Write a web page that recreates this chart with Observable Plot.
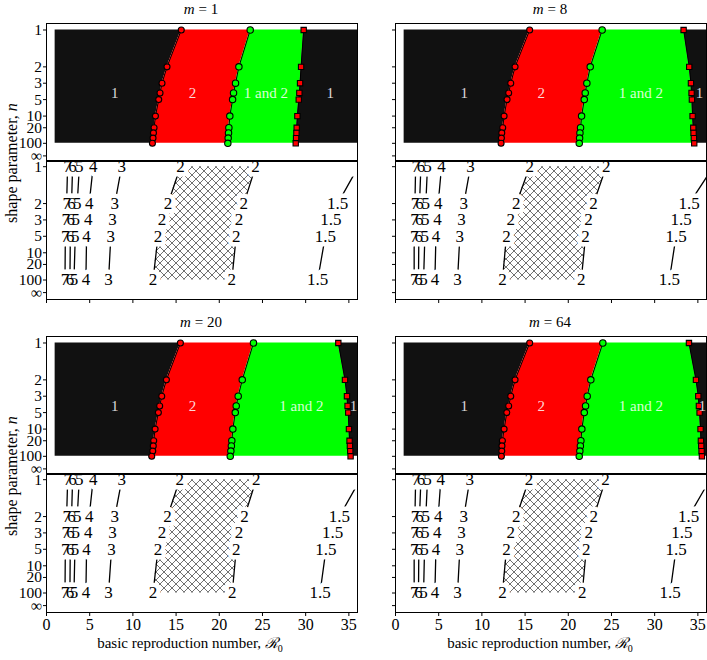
<!DOCTYPE html>
<html><head><meta charset="utf-8">
<script src="https://cdn.jsdelivr.net/npm/d3@7"></script>
<script src="https://cdn.jsdelivr.net/npm/@observablehq/plot@0.6"></script>
<style>
body{margin:0;background:#fff;}
#fig{position:relative;width:707px;height:660px;overflow:hidden;font-family:"Liberation Serif","Times New Roman",serif;color:#000;background:#fff;}
.lbl{position:absolute;white-space:nowrap;transform:translate(-50%,-50%);line-height:1;}
.ylbl{position:absolute;white-space:nowrap;transform:translate(-50%,-50%) rotate(-90deg);line-height:1;}
.scr{font-family:"DejaVu Serif","Liberation Serif",serif;font-style:italic;}
</style></head><body>
<svg width="0" height="0" style="position:absolute">
 <defs><pattern id="hatch" patternUnits="userSpaceOnUse" width="8" height="8">
 <path d="M0,0L8,8M8,0L0,8M-1,7L1,9M7,-1L9,1M-1,1L1,-1M7,9L9,7" stroke="#333" stroke-width="0.7" fill="none"/></pattern></defs></svg>
<div id="fig"></div>
<script>
// ---------- data ----------
const mValues = [1, 8, 20, 64];
const nBoundary = [1, 2, 3, 4, 5, 10, 20, 30, 50, 100];
const r0Min = 1, r0Max = 36;

// boundaries (upper panels): b1 = red circles, b2 = green circles, b3 = red squares
const b1_m1  = [15.6, 13.95, 13.37, 13.14, 12.99, 12.61, 12.45, 12.38, 12.33, 12.26];
const b2_m1  = [23.58, 22.27, 21.88, 21.65, 21.54, 21.22, 21.11, 21.07, 21.03, 20.99];
const b3_m1  = [29.77, 29.47, 29.35, 29.27, 29.2, 29.04, 28.96, 28.93, 28.89, 28.85];
const b1_m8  = [15.53, 13.84, 13.34, 13.1, 12.91, 12.57, 12.41, 12.3, 12.26, 12.22];
const b2_m8  = [23.92, 22.54, 22.15, 21.96, 21.85, 21.54, 21.42, 21.35, 21.31, 21.27];
const b3_m8  = [33.35, 34.0, 34.2, 34.27, 34.31, 34.39, 34.47, 34.5, 34.54, 34.58];
const b1_m20 = [15.5, 13.88, 13.34, 13.1, 12.95, 12.57, 12.41, 12.36, 12.3, 12.18];
const b2_m20 = [23.96, 22.66, 22.19, 21.96, 21.85, 21.57, 21.45, 21.4, 21.34, 21.27];
const b3_m20 = [33.78, 34.55, 34.78, 34.85, 34.93, 35.01, 35.08, 35.12, 35.16, 35.2];
const b1_m64 = [15.53, 13.84, 13.34, 13.1, 12.88, 12.57, 12.37, 12.32, 12.3, 12.26];
const b2_m64 = [24.0, 22.61, 22.19, 22.0, 21.85, 21.57, 21.46, 21.4, 21.34, 21.27];
const b3_m64 = [33.97, 34.78, 35.05, 35.12, 35.2, 35.31, 35.35, 35.39, 35.43, 35.47];

// region labels (upper panels)
const regionLabels = ["1", "2", "1 and 2", "1"];
const regionLabelN = 4;
const regionX_m1  = [7.9, 16.9, 25.4, 32.85];
const regionX_m8  = [7.95, 16.88, 28.4, 35.2];
const regionX_m20 = [7.9, 16.9, 29.5, 35.55];
const regionX_m64 = [7.95, 16.88, 28.4, 35.5];

// contour labels (lower panels), R0 at rows n = 1, 2, 3, 5, 100
const nLabelRows = [1, 2, 3, 5, 100];
const contourLevels = ["7", "6", "5", "4", "3", "2", "2", "1.5"];
const contour_m1 = [
  [2.44, 2.33, 2.22, 2.18, 2.14],
  [3.02, 2.9, 2.8, 2.76, 2.71],
  [3.8, 3.56, 3.4, 3.33, 3.18],
  [5.4, 4.94, 4.83, 4.64, 4.56],
  [8.7, 7.91, 7.64, 7.45, 7.18],
  [15.5, 14.07, 13.37, 12.91, 12.33],
  [24.2, 22.84, 22.27, 21.96, 21.45],
  [36.1, 33.7, 32.93, 32.27, 31.39]];
const contour_m8 = [
  [2.33, 2.25, 2.2, 2.16, 2.16],
  [2.94, 2.78, 2.75, 2.7, 2.66],
  [3.7, 3.51, 3.45, 3.4, 3.25],
  [5.33, 4.94, 4.86, 4.68, 4.56],
  [8.68, 7.91, 7.64, 7.45, 7.18],
  [15.53, 13.99, 13.34, 12.84, 12.38],
  [24.39, 22.92, 22.34, 22.0, 21.5],
  [36.8, 34.0, 33.05, 32.47, 31.7]];
const contour_m20 = [
  [2.45, 2.33, 2.22, 2.18, 2.14],
  [3.02, 2.9, 2.79, 2.75, 2.71],
  [3.79, 3.56, 3.4, 3.29, 3.18],
  [5.4, 4.94, 4.83, 4.64, 4.56],
  [8.72, 7.91, 7.64, 7.53, 7.18],
  [15.42, 14.0, 13.37, 12.91, 12.33],
  [24.27, 22.92, 22.27, 21.96, 21.5],
  [36.3, 33.89, 33.12, 32.35, 31.66]];
const contour_m64 = [
  [2.33, 2.25, 2.2, 2.16, 2.16],
  [2.94, 2.78, 2.75, 2.7, 2.66],
  [3.7, 3.51, 3.45, 3.36, 3.25],
  [5.25, 4.94, 4.82, 4.68, 4.56],
  [8.6, 7.91, 7.64, 7.45, 7.18],
  [15.45, 13.99, 13.34, 12.84, 12.38],
  [24.31, 22.96, 22.38, 22.08, 21.62],
  [36.4, 33.93, 33.16, 32.47, 31.78]];

// ticks
const nTicks = [1, 2, 3, 5, 10, 20, 100, Infinity];
const nTickLabels = ["1", "2", "3", "5", "10", "20", "100", "\u221E"];
const r0Ticks = [0, 5, 10, 15, 20, 25, 30, 35];

// ---------- helpers ----------
const cv = n => n === Infinity ? 0 : 1 / Math.sqrt(n);
const tickMap = new Map(nTicks.map((n, i) => [cv(n), nTickLabels[i]]));
const fig = document.getElementById("fig");

const colSvgLeft = [0, 350], colSvgWidth = [360, 357], colML = [46, 45], colMR = [3, 1];
const rowOffset = [0, 313];
const font = "Liberation Serif, Times New Roman, serif";

const panels = [
  {m: 1,  col: 0, row: 0, b1: b1_m1,  b2: b2_m1,  b3: b3_m1,  rx: regionX_m1,  c: contour_m1},
  {m: 8,  col: 1, row: 0, b1: b1_m8,  b2: b2_m8,  b3: b3_m8,  rx: regionX_m8,  c: contour_m8},
  {m: 20, col: 0, row: 1, b1: b1_m20, b2: b2_m20, b3: b3_m20, rx: regionX_m20, c: contour_m20},
  {m: 64, col: 1, row: 1, b1: b1_m64, b2: b2_m64, b3: b3_m64, rx: regionX_m64, c: contour_m64}
];

function place(el, left, top) {
  el.style.position = "absolute";
  el.style.left = left + "px";
  el.style.top = top + "px";
  fig.appendChild(el);
}
function addHTML(html, x, y, cls, size) {
  const d = document.createElement("div");
  d.className = cls;
  d.style.left = x + "px"; d.style.top = y + "px"; d.style.fontSize = size + "px";
  d.innerHTML = html;
  fig.appendChild(d);
}

for (const p of panels) {
  const showY = p.col === 0, showX = p.row === 1;
  const rows = nBoundary.map((n, i) => ({cv: cv(n), b1: p.b1[i], b2: p.b2[i], b3: p.b3[i], lo: r0Min, hi: r0Max}));
  const yAxisOpts = {ticks: nTicks.map(cv), tickSize: 3, tickPadding: 1.5, fontSize: 15.5,
    tickFormat: showY ? (d => tickMap.get(d)) : (() => ""), label: null};

  const upper = Plot.plot({
    width: colSvgWidth[p.col], height: 157,
    marginTop: 10, marginBottom: 10, marginLeft: colML[p.col], marginRight: colMR[p.col],
    x: {domain: [0, 36], axis: null},
    y: {domain: [-0.0365, 1.0516]},
    style: {background: "transparent", fontFamily: font, fontSize: "15px", overflow: "visible"},
    marks: [
      Plot.areaX(rows, {y: "cv", x1: "lo", x2: "b1", fill: "#111111"}),
      Plot.areaX(rows, {y: "cv", x1: "b1", x2: "b2", fill: "#ff0000"}),
      Plot.areaX(rows, {y: "cv", x1: "b2", x2: "b3", fill: "#00ff00"}),
      Plot.areaX(rows, {y: "cv", x1: "b3", x2: "hi", fill: "#111111", clip: true}),
      Plot.lineX(rows, {x: "b1", y: "cv", stroke: "black", strokeWidth: 1}),
      Plot.lineX(rows, {x: "b2", y: "cv", stroke: "black", strokeWidth: 1}),
      Plot.lineX(rows, {x: "b3", y: "cv", stroke: "black", strokeWidth: 1}),
      Plot.dot(rows, {x: "b1", y: "cv", r: 3, fill: "#ff0000", stroke: "black", strokeWidth: 1.1}),
      Plot.dot(rows, {x: "b2", y: "cv", r: 3.2, fill: "#00ff00", stroke: "black", strokeWidth: 1.1}),
      Plot.dot(rows, {x: "b3", y: "cv", r: 3, symbol: "square", fill: "#ff0000", stroke: "black", strokeWidth: 1.1, clip: true}),
      Plot.text(regionLabels, {x: (d, i) => p.rx[i], y: () => cv(regionLabelN), text: d => d,
        fill: "white", fillOpacity: 0.85, fontSize: 15, fontFamily: font, clip: true}),
      Plot.frame({stroke: "black", strokeWidth: 1}),
      Plot.axisY(yAxisOpts)
    ]
  });
  place(upper, colSvgLeft[p.col], 13 + rowOffset[p.row]);

  const pts = [];
  p.c.forEach((xs, j) => xs.forEach((x, i) => pts.push({level: contourLevels[j], idx: j, cv: cv(nLabelRows[i]), x})));
  const hatch = nLabelRows.map((n, i) => ({cv: cv(n), x1: p.c[5][i], x2: p.c[6][i]}));

  const lower = Plot.plot({
    width: colSvgWidth[p.col], height: 178,
    marginTop: 10, marginBottom: 30, marginLeft: colML[p.col], marginRight: colMR[p.col],
    x: {domain: [0, 36]},
    y: {domain: [-0.0548, 1.0413]},
    style: {background: "transparent", fontFamily: font, fontSize: "16px", overflow: "visible"},
    marks: [
      Plot.areaX(hatch, {y: "cv", x1: "x1", x2: "x2", fill: "url(#hatch)"}),
      Plot.line(pts, {x: "x", y: "cv", z: "idx", stroke: "black", strokeWidth: 1.3, clip: true}),
      Plot.text(pts, {x: "x", y: "cv", text: "level", fill: "none", stroke: "white", strokeWidth: 9,
        strokeLinejoin: "round", fontSize: 17, fontFamily: font, clip: true}),
      Plot.text(pts, {x: "x", y: "cv", text: "level", fill: "black", fontSize: 17, fontFamily: font,
        filter: d => d.x <= r0Max, clip: true}),
      Plot.frame({stroke: "black", strokeWidth: 1}),
      Plot.axisY(yAxisOpts),
      Plot.axisX({ticks: r0Ticks, tickSize: 4, tickPadding: 2, fontSize: 16, label: null,
        tickFormat: showX ? (d => String(d)) : (() => "")})
    ]
  });
  place(lower, colSvgLeft[p.col], 151 + rowOffset[p.row]);

  // panel title
  addHTML(`<i>m</i> = ${p.m}`, p.col === 0 ? 201 : 550, 8.7 + rowOffset[p.row], "lbl", 15);
  if (showX) addHTML(`basic reproduction number, <span class="scr">\u211B</span><sub style="font-size:10px">0</sub>`,
    p.col === 0 ? 190 : 540, 645, "lbl", 15);
  if (showY) addHTML(`shape parameter, <i>n</i>`, 12, 163 + rowOffset[p.row], "ylbl", 16);
}
</script>
</body></html>
